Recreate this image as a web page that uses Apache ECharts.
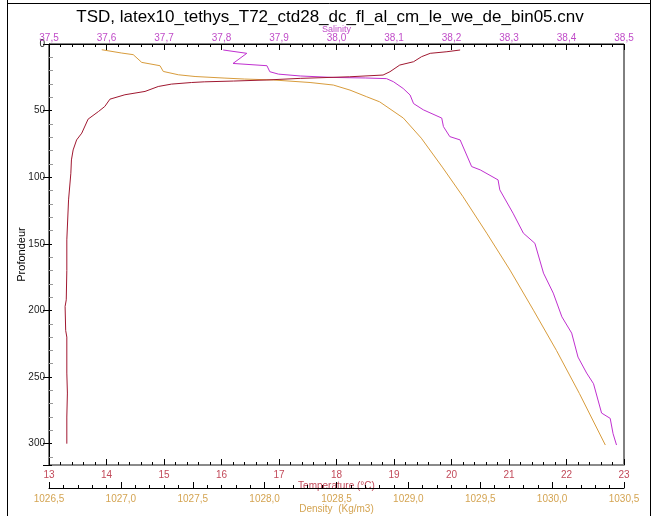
<!DOCTYPE html>
<html>
<head>
<meta charset="utf-8">
<script src="https://cdn.jsdelivr.net/npm/echarts@6/dist/echarts.min.js"></script>
<style>html,body{margin:0;padding:0;background:#fff}#c{width:651px;height:516px}</style>
</head>
<body>
<div id="c"></div>
<script>
const chartTitle = 'TSD, latex10_tethys_T72_ctd28_dc_fl_al_cm_le_we_de_bin05.cnv';
const depthName = 'Profondeur';
const tempName = 'Temperature (°C)';
const densName = 'Density  (Kg/m3)';
const salName = 'Salinity';

// Temperature profile (°C) vs depth (m)
const tempDepth  = [4.5, 5.8, 7, 9.5, 13.3, 15.8, 20.8, 23.3, 24.6, 25.8, 27, 27.8, 28.4, 28.9, 30.1, 31.9, 35.6, 38.1, 41.4, 46.9, 50.7, 56.4, 66.9, 72, 79.5, 87, 97, 117, 147, 170, 192, 197, 215, 220, 247, 262, 280, 300];
const tempValues = [20.15, 19.92, 19.63, 19.48, 19.34, 19.10, 18.93, 18.81, 18.23, 17.37, 16.79, 16.21, 15.7, 15.48, 15.13, 14.90, 14.67, 14.32, 14.06, 13.97, 13.86, 13.68, 13.57, 13.48, 13.42, 13.39, 13.38, 13.34, 13.31, 13.31, 13.30, 13.28, 13.29, 13.31, 13.31, 13.32, 13.31, 13.31];

// Salinity profile vs depth (m)
const salDepth  = [4.5, 7, 14.6, 16.3, 20.8, 22.6, 24, 25.1, 25.5, 26, 28.3, 33.4, 38.3, 44.7, 49.4, 55.6, 62, 69.5, 72, 92, 94.5, 102, 109.5, 127, 142, 149.6, 172, 187, 204.8, 217, 235, 247, 255, 277, 281, 292.5, 301];
const salValues = [37.803, 37.844, 37.820, 37.879, 37.884, 37.899, 37.937, 37.994, 38.050, 38.087, 38.099, 38.116, 38.128, 38.134, 38.151, 38.183, 38.186, 38.197, 38.215, 38.235, 38.250, 38.281, 38.284, 38.307, 38.325, 38.345, 38.360, 38.377, 38.392, 38.409, 38.420, 38.435, 38.447, 38.461, 38.476, 38.481, 38.487];

// Density profile (kg/m3) vs depth (m)
const densDepth  = [4.3, 6.8, 8, 13.8, 16.3, 20.6, 23.1, 24.4, 25.6, 26.3, 27, 28.9, 30.8, 34.6, 39.6, 43.4, 55.6, 70.7, 93, 114.6, 142, 169.7, 199.8, 230, 262.4, 301];
const densValues = [1026.867, 1027.006, 1027.086, 1027.145, 1027.272, 1027.295, 1027.40, 1027.516, 1027.724, 1027.86, 1028.06, 1028.316, 1028.478, 1028.594, 1028.71, 1028.80, 1028.965, 1029.09, 1029.24, 1029.38, 1029.545, 1029.707, 1029.87, 1030.03, 1030.19, 1030.37];

// Axis ranges / ticks
const depthRange = [0, 316], depthStep = 50;
const tempRange = [13, 23], tempStep = 1;
const densRange = [1026.5, 1030.5], densStep = 0.5;
const salRange = [37.5, 38.5], salStep = 0.1;

const FONT = 'Liberation Sans';
const comma = v => (Math.round(v * 10) / 10).toFixed(1).replace('.', ',');
const pairs = (vals, deps) => vals.map((v, i) => [v, deps[i]]);

const tempColor = '#c24a5a', salColor = '#c04cc8', densColor = '#d4a452';

const chart = echarts.init(document.getElementById('c'), null, {renderer: 'canvas'});
chart.setOption({
  backgroundColor: '#fff',
  animation: false,
  title: {
    text: chartTitle, left: 325, textAlign: 'center', top: 4,
    textStyle: {fontFamily: FONT, fontSize: 17, fontWeight: 'normal', color: '#000'}
  },
  grid: {left: 49, right: 27, top: 44, bottom: 51, containLabel: false, outerBoundsMode: 'none',
         show: true, borderColor: '#000', borderWidth: 1, backgroundColor: 'transparent'},
  xAxis: [
    {
      type: 'value', position: 'bottom', min: tempRange[0], max: tempRange[1], interval: tempStep,
      axisLine: {show: true, onZero: false, lineStyle: {color: '#8a8a8a', width: 2}},
      axisTick: {show: true, inside: true, length: 6, lineStyle: {color: '#000'}},
      minorTick: {show: true, splitNumber: 5, length: 3, lineStyle: {color: '#000'}},
      splitLine: {show: false},
      axisLabel: {color: tempColor, fontFamily: FONT, fontSize: 10, margin: 5},
      name: tempName, nameLocation: 'middle', nameGap: 16, nameMoveOverlap: false,
      nameTextStyle: {color: tempColor, fontFamily: FONT, fontSize: 10}
    },
    {
      type: 'value', position: 'bottom', offset: 23, min: densRange[0], max: densRange[1], interval: densStep,
      axisLine: {show: true, onZero: false, lineStyle: {color: '#000', width: 1}},
      axisTick: {show: true, inside: true, length: 6, lineStyle: {color: '#000'}},
      minorTick: {show: true, splitNumber: 5, length: 3, lineStyle: {color: '#000'}},
      splitLine: {show: false},
      axisLabel: {color: densColor, fontFamily: FONT, fontSize: 10, margin: 6, formatter: comma},
      name: densName, nameLocation: 'middle', nameGap: 16, nameMoveOverlap: false,
      nameTextStyle: {color: densColor, fontFamily: FONT, fontSize: 10}
    },
    {
      type: 'value', position: 'top', min: salRange[0], max: salRange[1], interval: salStep,
      axisLine: {show: true, onZero: false, lineStyle: {color: '#000', width: 1}},
      axisTick: {show: true, inside: true, length: 6, lineStyle: {color: '#000'}},
      minorTick: {show: true, splitNumber: 5, length: 3, lineStyle: {color: '#000'}},
      splitLine: {show: false},
      axisLabel: {color: salColor, fontFamily: FONT, fontSize: 10, margin: 1, formatter: comma},
      name: salName, nameLocation: 'middle', nameGap: 10, nameMoveOverlap: false,
      nameTextStyle: {color: salColor, fontFamily: FONT, fontSize: 9}
    }
  ],
  yAxis: [
    {
      type: 'value', inverse: true, min: depthRange[0], max: depthRange[1], interval: depthStep,
      axisLine: {show: true, onZero: false, lineStyle: {color: '#000', width: 1}},
      axisTick: {show: true, inside: false, length: 6, lineStyle: {color: '#000'}},
      splitLine: {show: false},
      axisLabel: {color: '#222', fontFamily: FONT, fontSize: 10, margin: 4,
        formatter: v => (v % depthStep === 0 ? String(v) : '')},
      name: depthName, nameLocation: 'middle', nameGap: 22, nameRotate: 90, nameMoveOverlap: false,
      nameTextStyle: {color: '#000', fontFamily: 'Liberation Sans Narrow, ' + FONT, fontSize: 11}
    },
    {
      type: 'value', inverse: true, position: 'left', min: depthRange[0], max: depthRange[1], interval: depthStep,
      axisLine: {show: false},
      axisTick: {show: true, inside: true, length: 3, lineStyle: {color: '#000'}},
      minorTick: {show: true, splitNumber: 5, length: 4, lineStyle: {color: '#999'}},
      splitLine: {show: false},
      axisLabel: {show: false}
    }
  ],
  graphic: [
    {type: 'line', shape: {x1: 7.5, y1: 0, x2: 7.5, y2: 516}, style: {stroke: '#000', lineWidth: 1}, silent: true},
    {type: 'line', shape: {x1: 7.5, y1: 3.5, x2: 651, y2: 3.5}, style: {stroke: '#000', lineWidth: 1}, silent: true},
    {type: 'line', shape: {x1: 650.5, y1: 0, x2: 650.5, y2: 516}, style: {stroke: '#000', lineWidth: 1}, silent: true}
  ],
  series: [
    {
      name: 'Density', type: 'line', xAxisIndex: 1, yAxisIndex: 0, showSymbol: false, symbol: 'none',
      lineStyle: {color: '#d89c3c', width: 1}, data: pairs(densValues, densDepth), z: 3
    },
    {
      name: 'Salinity', type: 'line', xAxisIndex: 2, yAxisIndex: 0, showSymbol: false, symbol: 'none',
      lineStyle: {color: '#c030d0', width: 1}, data: pairs(salValues, salDepth), z: 4
    },
    {
      name: 'Temperature', type: 'line', xAxisIndex: 0, yAxisIndex: 0, showSymbol: false, symbol: 'none',
      lineStyle: {color: '#a01830', width: 1}, data: pairs(tempValues, tempDepth), z: 5
    }
  ]
});
</script>
</body>
</html>
